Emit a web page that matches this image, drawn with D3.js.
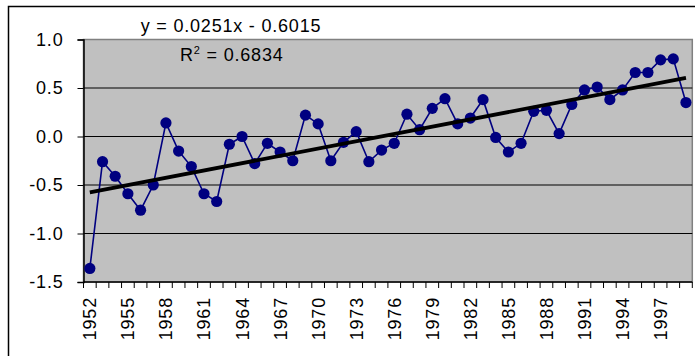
<!DOCTYPE html>
<html>
<head>
<meta charset="utf-8">
<script src="https://cdn.jsdelivr.net/npm/d3@7"></script>
<style>
  html, body { margin: 0; padding: 0; background: #fff; }
  svg { display: block; font-family: Arial, "Liberation Sans", sans-serif; }
</style>
</head>
<body>
<svg id="chart" width="695" height="356"></svg>
<script>
// Annual anomaly series, 1952–1999
const years = d3.range(1952, 2000);
const values = [
  -1.36, -0.26, -0.41, -0.59, -0.76, -0.50, 0.14, -0.15,
  -0.31, -0.59, -0.67, -0.08, 0.00, -0.28, -0.07, -0.16,
  -0.25, 0.22, 0.13, -0.25, -0.06, 0.05, -0.26, -0.14,
  -0.07, 0.23, 0.07, 0.29, 0.39, 0.13, 0.19, 0.38,
  -0.01, -0.16, -0.07, 0.26, 0.27, 0.03, 0.33, 0.48,
  0.51, 0.38, 0.48, 0.66, 0.66, 0.79, 0.80, 0.35
];
const yTicks = [-1.5, -1.0, -0.5, 0.0, 0.5, 1.0];
const xLabelYears = d3.range(1952, 2000, 3);
// Linear trend fitted on index 1..n
const trendSlope = 0.0251;
const trendIntercept = -0.6015;
const equationText = "y = 0.0251x - 0.6015";
const r2Value = "0.6834";

const FONT = 18;
const SPACING = "0.8px";

const svg = d3.select("#chart");
const plot = { left: 83.5, top: 39.5, right: 692.3, bottom: 282 };

// Chart area frame
svg.append("rect")
  .attr("x", 8.5).attr("y", 6.5).attr("width", 720).attr("height", 400)
  .attr("fill", "#fff").attr("stroke", "#000").attr("stroke-width", 1.5);

const x = d3.scaleBand().domain(years).range([plot.left, plot.right]).padding(0);
const y = d3.scaleLinear().domain([-1.5, 1.0]).range([plot.bottom, plot.top]);
const cx = d => x(d) + x.bandwidth() / 2;

// Plot area
svg.append("rect")
  .attr("x", plot.left).attr("y", plot.top)
  .attr("width", plot.right - plot.left).attr("height", plot.bottom - plot.top)
  .attr("fill", "#C0C0C0").attr("stroke", "#808080").attr("stroke-width", 1.5);

// Horizontal gridlines
svg.append("g").selectAll("line")
  .data(yTicks.filter(t => t > -1.5 && t < 1.0))
  .join("line")
  .attr("x1", plot.left).attr("x2", plot.right)
  .attr("y1", d => y(d)).attr("y2", d => y(d))
  .attr("stroke", "#000").attr("stroke-width", 1);

// Y axis
const yAxis = d3.axisLeft(y).tickValues(yTicks).tickFormat(d3.format(".1f")).tickSize(6).tickPadding(14);
const gy = svg.append("g").attr("transform", `translate(${plot.left},0)`).call(yAxis);
gy.select(".domain").attr("stroke", "#000").attr("stroke-width", 1.5);
gy.selectAll(".tick line").attr("stroke", "#000");
gy.selectAll(".tick text").attr("font-size", FONT).attr("fill", "#000")
  .attr("letter-spacing", SPACING)
  .attr("font-family", "Arial, 'Liberation Sans', sans-serif")
  .text(d => d.toFixed(1));

// X axis: tick marks at category boundaries
const boundaries = years.map(d => x(d)).concat([plot.right]);
const gx = svg.append("g");
gx.append("line")
  .attr("x1", plot.left).attr("x2", plot.right)
  .attr("y1", plot.bottom).attr("y2", plot.bottom)
  .attr("stroke", "#000").attr("stroke-width", 1.5);
gx.selectAll("line.tk").data(boundaries).join("line").attr("class", "tk")
  .attr("x1", d => d).attr("x2", d => d)
  .attr("y1", plot.bottom).attr("y2", plot.bottom + 6)
  .attr("stroke", "#000").attr("stroke-width", 1);
gx.selectAll("text").data(xLabelYears).join("text")
  .attr("transform", d => `translate(${cx(d) + 6.5},${plot.bottom + 15}) rotate(-90)`)
  .attr("text-anchor", "end")
  .attr("font-size", FONT).attr("letter-spacing", SPACING).attr("fill", "#000")
  .text(d => d);

// Data series
svg.append("path")
  .datum(values)
  .attr("fill", "none").attr("stroke", "#000080").attr("stroke-width", 1.6)
  .attr("d", d3.line().x((d, i) => cx(years[i])).y(d => y(d)));
svg.append("g").selectAll("circle").data(values).join("circle")
  .attr("cx", (d, i) => cx(years[i])).attr("cy", d => y(d)).attr("r", 5.6)
  .attr("fill", "#000080");

// Trend line
const n = values.length;
const trend = [1, n].map(k => ({ yr: years[k - 1], v: trendSlope * k + trendIntercept }));
svg.append("line")
  .attr("x1", cx(trend[0].yr)).attr("y1", y(trend[0].v))
  .attr("x2", cx(trend[1].yr)).attr("y2", y(trend[1].v))
  .attr("stroke", "#000").attr("stroke-width", 3.8);

// Trend equation labels
svg.append("text").attr("x", 231).attr("y", 32).attr("text-anchor", "middle")
  .attr("font-size", FONT).attr("letter-spacing", SPACING).attr("fill", "#000").text(equationText);
const r2 = svg.append("text").attr("x", 180).attr("y", 61)
  .attr("font-size", FONT).attr("letter-spacing", SPACING).attr("fill", "#000");
r2.append("tspan").text("R");
r2.append("tspan").attr("dy", -7).attr("font-size", 11).text("2");
r2.append("tspan").attr("dy", 7).text(" = " + r2Value);
</script>
</body>
</html>
